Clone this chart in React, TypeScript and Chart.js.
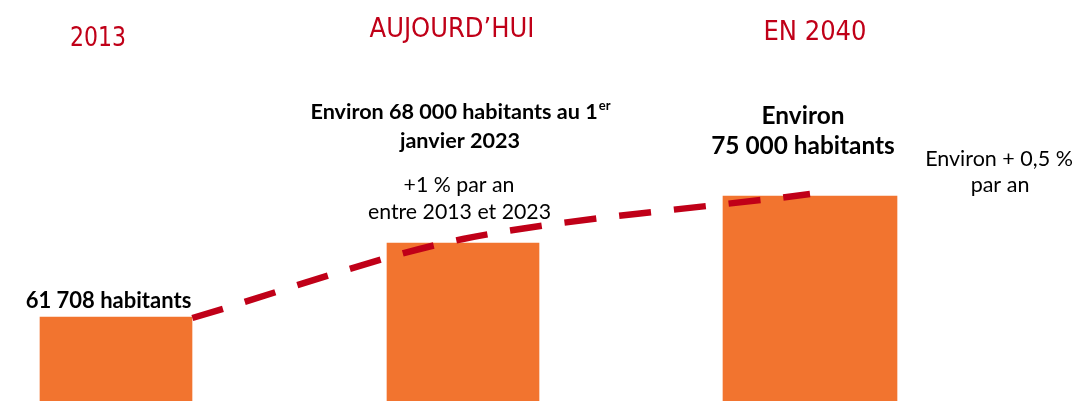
import React, { useEffect, useRef } from "react";
import { Chart, registerables } from "chart.js";

Chart.register(...registerables);

// Categories (periods) shown as headers
const categories = ["2013", "AUJOURD’HUI", "EN 2040"];
// Illustrative bar heights as drawn (relative units, 0–100 scale)
const barHeights = [20.95, 39.4, 51.1];
// Trend (dashed) line: category positions and relative heights
const trendX = [0.22, 1, 2];
const trendY = [20.7, 40.4, 51.6];
// Annotation texts
const popLabel2013 = "61 708 habitants";
const popLabelToday = ["Environ 68 000 habitants au 1", "janvier 2023"];
const growthToday = ["+1 % par an", "entre 2013 et 2023"];
const popLabel2040 = ["Environ", "75 000 habitants"];
const growth2040 = ["Environ + 0,5 %", "par an"];

const RED = "#C00018";
const ORANGE = "#F2742F";

const textPlugin = {
  id: "texts",
  afterDraw(chart: any) {
    const ctx = chart.ctx as CanvasRenderingContext2D;
    ctx.save();
    ctx.textAlign = "center";
    ctx.textBaseline = "alphabetic";
    // headers (narrow, condensed look)
    ctx.fillStyle = RED;
    ctx.font = "400 27px 'DejaVu Sans Condensed', 'DejaVu Sans', sans-serif";
    const header = (t: string, x: number, y: number, maxW: number) => {
      const w = ctx.measureText(t).width;
      const sx = Math.min(1, maxW / w);
      ctx.save();
      ctx.translate(x, y);
      ctx.scale(sx, 1);
      ctx.fillText(t, 0, 0);
      ctx.restore();
    };
    header(categories[0], 98, 46, 56);
    header(categories[1], 452, 37, 172);
    header(categories[2], 815, 40, 104);

    ctx.fillStyle = "#000";
    // 2013 label
    ctx.font = "700 22px Lato, sans-serif";
    ctx.fillText(popLabel2013, 108.5, 308);

    // Today label, line 1 with superscript
    const bold = "700 21.6px Lato, sans-serif";
    const supFont = "700 13px Lato, sans-serif";
    ctx.font = bold;
    const l1 = popLabelToday[0];
    const w1 = ctx.measureText(l1).width;
    ctx.font = supFont;
    const sup = "er";
    const ws = ctx.measureText(sup).width;
    const start = 460 - (w1 + ws) / 2;
    ctx.textAlign = "left";
    ctx.font = bold;
    ctx.fillText(l1, start, 119);
    ctx.font = supFont;
    ctx.fillText(sup, start + w1 + 1, 110);
    ctx.textAlign = "center";
    ctx.font = bold;
    ctx.fillText(popLabelToday[1], 460, 148);

    ctx.font = "400 21.3px Lato, sans-serif";
    ctx.fillText(growthToday[0], 459, 192);
    ctx.fillText(growthToday[1], 459.5, 219);

    // 2040 label
    ctx.font = "700 24.4px Lato, sans-serif";
    ctx.fillText(popLabel2040[0], 803, 124);
    ctx.fillText(popLabel2040[1], 803, 154);

    ctx.font = "400 21.5px Lato, sans-serif";
    ctx.fillText(growth2040[0], 999, 166);
    ctx.fillText(growth2040[1], 1000, 192);
    ctx.restore();
  },
};

export default function App() {
  const ref = useRef<HTMLCanvasElement>(null);
  useEffect(() => {
    document.body.style.margin = "0";
    const canvas = ref.current;
    if (!canvas) return;
    const chart = new Chart(canvas, {
      type: "bar",
      data: {
        labels: categories,
        datasets: [
          {
            type: "line",
            xAxisID: "x2",
            data: trendX.map((x, i) => ({ x, y: trendY[i] })),
            borderColor: RED,
            borderWidth: 6.5,
            borderDash: [32, 23],
            borderCapStyle: "butt",
            pointRadius: 0,
            tension: 0.3,
            clip: false,
            order: 0,
          } as any,
          {
            data: [barHeights[0], barHeights[1], null],
            backgroundColor: ORANGE,
            barThickness: 152,
            grouped: false,
            clip: false,
            order: 1,
          } as any,
          {
            data: [null, null, barHeights[2]],
            backgroundColor: ORANGE,
            barThickness: 174,
            grouped: false,
            clip: false,
            order: 1,
          } as any,
        ],
      },
      options: {
        responsive: false,
        animation: false,
        layout: { padding: { left: 116, right: 268, top: 0, bottom: 0 } },
        plugins: { legend: { display: false }, tooltip: { enabled: false } },
        scales: {
          x: { type: "category", offset: false, display: false },
          x2: { type: "linear", min: 0, max: 2, offset: false, display: false },
          y: { type: "linear", min: 0, max: 100, display: false },
        },
      },
      plugins: [textPlugin],
    });
    return () => chart.destroy();
  }, []);
  return (
    <div style={{ width: 1078, height: 401 }}>
      <canvas ref={ref} width={1078} height={401} />
    </div>
  );
}
